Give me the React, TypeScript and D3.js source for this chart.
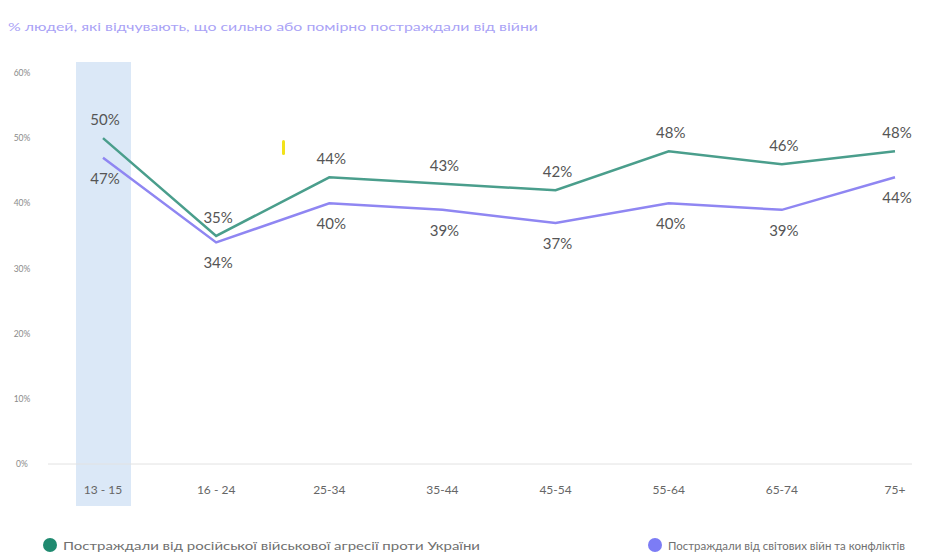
import React from "react";
import * as d3 from "d3";

const categories = ["13 - 15", "16 - 24", "25-34", "35-44", "45-54", "55-64", "65-74", "75+"];
const seriesNames = [
  "Постраждали від російської військової агресії проти України",
  "Постраждали від світових війн та конфліктів",
];
const russianAggression = [50, 35, 44, 43, 42, 48, 46, 48];
const worldWars = [47, 34, 40, 39, 37, 40, 39, 44];
const yTicks = [0, 10, 20, 30, 40, 50, 60];
const title = "% людей, які відчувають, що сильно або помірно постраждали від війни";

const W = 936;
const H = 554;
const FONT = "Lato, 'Noto Sans', sans-serif";

export default function App() {
  const x = d3.scalePoint<string>().domain(categories).range([103, 895]);
  const y = d3.scaleLinear().domain([0, 60]).range([464, 73]);
  const line = d3
    .line<number>()
    .x((_, i) => x(categories[i]) as number)
    .y((d) => y(d));

  const green = "#4a9e8c";
  const purple = "#8f86f2";

  return (
    <svg width={W} height={H} style={{ position: "absolute", left: 0, top: 0, background: "#fff" }}>
      <rect
        x={(x(categories[0]) as number) - 27}
        y={62}
        width={55}
        height={444}
        fill="#dbe8f7"
      />
      <text
        x={8}
        y={31}
        fontFamily={FONT}
        fontSize={11.5}
        fill="#aaa3f6"
        textLength={530}
        lengthAdjust="spacingAndGlyphs"
      >
        {title}
      </text>
      {yTicks.map((t) => (
        <text
          key={t}
          x={22}
          y={y(t) + 3}
          textAnchor="middle"
          fontFamily={FONT}
          fontSize={8.5}
          fill="#8a8a8a"
        >
          {t}%
        </text>
      ))}
      <line x1={48} x2={912} y1={y(0)} y2={y(0)} stroke="#e2e2e2" strokeWidth={1} />
      {categories.map((c) => (
        <text
          key={c}
          x={x(c) as number}
          y={494}
          textAnchor="middle"
          fontFamily={FONT}
          fontSize={12}
          fill="#666"
        >
          {c}
        </text>
      ))}
      <rect x={282} y={140} width={3} height={15} rx={1.5} fill="#f2e21a" />
      <path d={line(worldWars) || ""} fill="none" stroke={purple} strokeWidth={2.5} />
      <path d={line(russianAggression) || ""} fill="none" stroke={green} strokeWidth={2.5} />
      {russianAggression.map((v, i) => (
        <text
          key={"g" + i}
          x={(x(categories[i]) as number) + 2}
          y={y(v) - 13}
          textAnchor="middle"
          fontFamily={FONT}
          fontSize={15}
          fill="#555"
        >
          {v}%
        </text>
      ))}
      {worldWars.map((v, i) => (
        <text
          key={"p" + i}
          x={(x(categories[i]) as number) + 2}
          y={y(v) + 26}
          textAnchor="middle"
          fontFamily={FONT}
          fontSize={15}
          fill="#555"
        >
          {v}%
        </text>
      ))}
      <circle cx={50} cy={545} r={7} fill="#1f8a70" />
      <text
        x={63}
        y={550}
        fontFamily={FONT}
        fontSize={12}
        fill="#707070"
        textLength={417}
        lengthAdjust="spacingAndGlyphs"
      >
        {seriesNames[0]}
      </text>
      <circle cx={655} cy={545} r={7} fill="#7c7cf5" />
      <text
        x={668}
        y={550}
        fontFamily={FONT}
        fontSize={12}
        fill="#707070"
        textLength={237}
        lengthAdjust="spacingAndGlyphs"
      >
        {seriesNames[1]}
      </text>
    </svg>
  );
}
